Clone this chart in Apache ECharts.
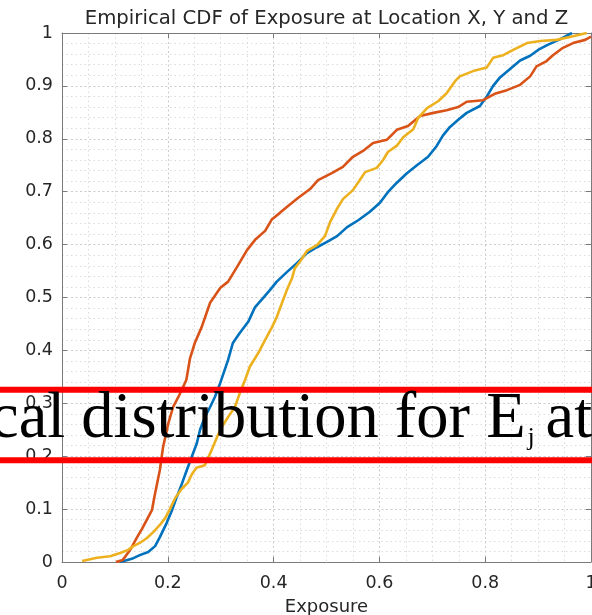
<!DOCTYPE html>
<html>
<head>
<meta charset="utf-8">
<script src="https://cdn.jsdelivr.net/npm/echarts@6/dist/echarts.min.js"></script>
<style>
  html, body { margin: 0; padding: 0; background: #ffffff; }
  #chart { width: 592px; height: 615px; }
</style>
</head>
<body>
<div id="chart"></div>
<script>
// Axis ticks and their labels
const xTickValues = [0, 0.2, 0.4, 0.6, 0.8, 1];
const xTickLabels = ['0', '0.2', '0.4', '0.6', '0.8', '1'];
const yTickValues = [0, 0.1, 0.2, 0.3, 0.4, 0.5, 0.6, 0.7, 0.8, 0.9, 1];
const yTickLabels = ['0', '0.1', '0.2', '0.3', '0.4', '0.5', '0.6', '0.7', '0.8', '0.9', '1'];

const seriesNames = ['Location X', 'Location Y', 'Location Z'];

// Empirical CDF of exposure, Location X
const locXExposure = [0.110, 0.132, 0.147, 0.163, 0.176, 0.185, 0.198, 0.208, 0.217, 0.227, 0.236, 0.245, 0.255, 0.261, 0.270, 0.280, 0.289, 0.299, 0.314, 0.323, 0.336, 0.352, 0.365, 0.380, 0.393, 0.406, 0.425, 0.444, 0.463, 0.482, 0.501, 0.520, 0.539, 0.560, 0.582, 0.601, 0.616, 0.633, 0.652, 0.671, 0.692, 0.708, 0.720, 0.733, 0.749, 0.765, 0.790, 0.803, 0.815, 0.828, 0.847, 0.866, 0.885, 0.900, 0.917, 0.941, 0.964];
const locXCdf      = [0.000, 0.006, 0.013, 0.019, 0.030, 0.047, 0.074, 0.098, 0.123, 0.149, 0.174, 0.198, 0.225, 0.250, 0.274, 0.293, 0.312, 0.338, 0.382, 0.414, 0.433, 0.454, 0.482, 0.499, 0.514, 0.530, 0.548, 0.565, 0.584, 0.595, 0.605, 0.616, 0.633, 0.646, 0.662, 0.679, 0.699, 0.717, 0.735, 0.750, 0.766, 0.786, 0.806, 0.822, 0.836, 0.849, 0.862, 0.880, 0.900, 0.916, 0.932, 0.948, 0.957, 0.968, 0.977, 0.988, 1.000];

// Empirical CDF of exposure, Location Y
const locYExposure = [0.102, 0.115, 0.129, 0.141, 0.151, 0.163, 0.170, 0.176, 0.185, 0.191, 0.201, 0.210, 0.220, 0.229, 0.235, 0.242, 0.251, 0.264, 0.280, 0.299, 0.314, 0.331, 0.350, 0.365, 0.384, 0.397, 0.412, 0.425, 0.446, 0.469, 0.484, 0.510, 0.531, 0.550, 0.569, 0.588, 0.614, 0.633, 0.654, 0.677, 0.702, 0.727, 0.749, 0.765, 0.796, 0.818, 0.841, 0.866, 0.885, 0.897, 0.916, 0.928, 0.947, 0.966, 0.989, 1.000];
const locYCdf      = [0.000, 0.004, 0.023, 0.045, 0.062, 0.085, 0.098, 0.130, 0.174, 0.217, 0.262, 0.293, 0.312, 0.331, 0.344, 0.385, 0.414, 0.444, 0.490, 0.518, 0.530, 0.558, 0.590, 0.609, 0.626, 0.648, 0.660, 0.671, 0.688, 0.705, 0.722, 0.735, 0.747, 0.766, 0.777, 0.792, 0.798, 0.817, 0.824, 0.843, 0.849, 0.854, 0.860, 0.870, 0.873, 0.885, 0.892, 0.902, 0.918, 0.937, 0.947, 0.958, 0.972, 0.981, 0.987, 0.993];

// Empirical CDF of exposure, Location Z
const locZExposure = [0.038, 0.066, 0.091, 0.110, 0.125, 0.135, 0.147, 0.160, 0.173, 0.185, 0.195, 0.204, 0.214, 0.226, 0.238, 0.245, 0.254, 0.270, 0.283, 0.293, 0.302, 0.314, 0.327, 0.336, 0.346, 0.355, 0.371, 0.384, 0.397, 0.406, 0.416, 0.425, 0.435, 0.440, 0.450, 0.463, 0.482, 0.497, 0.507, 0.520, 0.531, 0.550, 0.563, 0.573, 0.595, 0.607, 0.616, 0.633, 0.645, 0.664, 0.673, 0.690, 0.711, 0.727, 0.743, 0.752, 0.777, 0.803, 0.815, 0.834, 0.853, 0.879, 0.904, 0.935, 0.966, 0.992];
const locZCdf      = [0.002, 0.008, 0.011, 0.017, 0.023, 0.030, 0.036, 0.045, 0.057, 0.070, 0.083, 0.100, 0.121, 0.138, 0.150, 0.165, 0.178, 0.183, 0.212, 0.236, 0.255, 0.274, 0.293, 0.319, 0.344, 0.369, 0.395, 0.420, 0.444, 0.463, 0.490, 0.514, 0.537, 0.555, 0.568, 0.588, 0.599, 0.616, 0.643, 0.668, 0.686, 0.703, 0.722, 0.737, 0.745, 0.760, 0.775, 0.787, 0.803, 0.818, 0.839, 0.858, 0.871, 0.886, 0.909, 0.918, 0.928, 0.935, 0.953, 0.958, 0.968, 0.981, 0.985, 0.987, 0.994, 1.000];

const lineColors = ['#0072BD', '#D95319', '#EDB120'];

const pairs = (xs, ys) => xs.map((x, i) => [x, ys[i]]);
const pickLabel = (values, labels) => (v) => {
  const i = values.findIndex(t => Math.abs(t - v) < 1e-9);
  return i >= 0 ? labels[i] : '';
};

const axisGray = '#7a7a7a';
const labelFont = 'DejaVu Sans';

const G = { left: 62, top: 33, width: 529, height: 529 };

function boxAxis(extra) {
  return Object.assign({
    type: 'value', min: 0, max: 1,
    axisLine: { show: true, onZero: false, lineStyle: { color: axisGray, width: 1 } },
    axisTick: { show: true, inside: true, length: 5, lineStyle: { color: axisGray } },
    splitLine: { show: false },
    minorTick: { show: false },
    minorSplitLine: { show: false }
  }, extra);
}

// Caption strip drawn across the figure
const captionFont = '"Liberation Serif", "Times New Roman", serif';
const captionMain = 'cal distribution for E';
const captionSub = 'j';
const captionTail = 'at';
const mainSize = 64.5, subSize = 26;
const captionX = -10;
const ctx = document.createElement('canvas').getContext('2d');
ctx.font = mainSize + 'px ' + captionFont;
const mainW = ctx.measureText(captionMain).width;
const subX = captionX + mainW + 2;
const tailX = captionX + mainW + 20;

const chart = echarts.init(document.getElementById('chart'), null, { renderer: 'canvas' });
chart.setOption({
  animation: false,
  backgroundColor: '#ffffff',
  title: {
    text: 'Empirical CDF of Exposure at Location X, Y and Z',
    left: G.left + G.width / 2,
    textAlign: 'center',
    top: 9,
    padding: 0,
    textStyle: { fontFamily: labelFont, fontSize: 19.7, fontWeight: 'normal', color: '#262626' }
  },
  grid: { left: G.left, top: G.top, width: G.width, height: G.height, containLabel: false, outerBoundsMode: 'none' },
  xAxis: [
    boxAxis({
      position: 'bottom', interval: 0.2,
      name: 'Exposure', nameLocation: 'middle', nameGap: 36,
      nameTextStyle: { fontFamily: labelFont, fontSize: 18, color: '#262626' },
      axisLabel: { show: true, margin: 12, fontFamily: labelFont, fontSize: 17.5, color: '#262626',
        showMinLabel: true, showMaxLabel: true, formatter: pickLabel(xTickValues, xTickLabels) },
      splitLine: { show: true, lineStyle: { color: '#cccccc', width: 1, type: [2, 2.5] } },
      minorTick: { show: false, splitNumber: 4 },
      minorSplitLine: { show: true, lineStyle: { color: '#dcdcdc', width: 1, type: [1.5, 3] } }
    }),
    boxAxis({ position: 'top', interval: 0.2, axisLabel: { show: false } })
  ],
  yAxis: [
    boxAxis({
      position: 'left', interval: 0.1,
      axisLabel: { show: true, margin: 9, fontFamily: labelFont, fontSize: 17.5, color: '#262626',
        showMinLabel: true, showMaxLabel: true, formatter: pickLabel(yTickValues, yTickLabels) },
      splitLine: { show: true, lineStyle: { color: '#cccccc', width: 1, type: [2, 2.5] } },
      minorTick: { show: false, splitNumber: 5 },
      minorSplitLine: { show: true, lineStyle: { color: '#dcdcdc', width: 1, type: [1.5, 3] } }
    }),
    boxAxis({ position: 'right', interval: 0.1, axisLabel: { show: false } })
  ],
  series: [
    { name: seriesNames[0], data: pairs(locXExposure, locXCdf) },
    { name: seriesNames[1], data: pairs(locYExposure, locYCdf) },
    { name: seriesNames[2], data: pairs(locZExposure, locZCdf) }
  ].map((s, i) => Object.assign({
    type: 'line', xAxisIndex: 0, yAxisIndex: 0, showSymbol: false, clip: true,
    lineStyle: { color: lineColors[i], width: 2.6 }, itemStyle: { color: lineColors[i] }, z: 3 + i
  }, s)),
  graphic: [
    { type: 'rect', z: 100, shape: { x: 0, y: 386.7, width: 592, height: 6 }, style: { fill: '#ff0000' } },
    { type: 'rect', z: 100, shape: { x: 0, y: 457.3, width: 592, height: 6 }, style: { fill: '#ff0000' } },
    { type: 'text', z: 101, x: captionX, y: 420,
      style: { text: captionMain, font: mainSize + 'px ' + captionFont, fill: '#000000', align: 'left', verticalAlign: 'middle' } },
    { type: 'text', z: 101, x: subX, y: 438,
      style: { text: captionSub, font: subSize + 'px ' + captionFont, fill: '#000000', align: 'left', verticalAlign: 'middle' } },
    { type: 'text', z: 101, x: tailX, y: 420,
      style: { text: captionTail, font: mainSize + 'px ' + captionFont, fill: '#000000', align: 'left', verticalAlign: 'middle' } }
  ]
});
</script>
</body>
</html>
